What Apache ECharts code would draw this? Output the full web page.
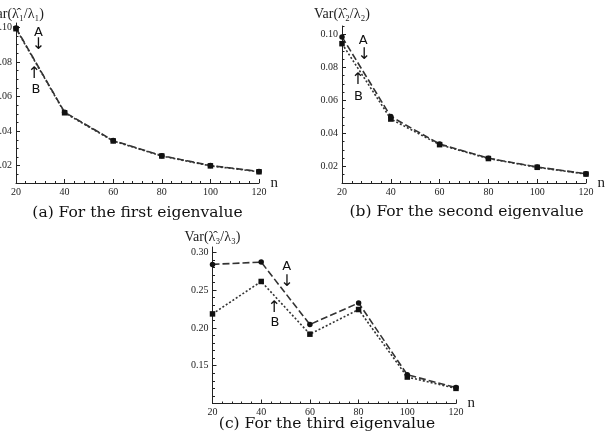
<!DOCTYPE html>
<html>
<head>
<meta charset="utf-8">
<script src="https://cdn.jsdelivr.net/npm/echarts@6/dist/echarts.min.js"></script>
<style>
    html, body { margin: 0; padding: 0; background: #fff; }
    #main { width: 616px; height: 443px; }
</style>
</head>
<body>
<div id="main"></div>
<script>
    // sample sizes
    var nValues = [20, 40, 60, 80, 100, 120];
    // (a) first eigenvalue
    var varA1 = [0.0996, 0.0509, 0.0345, 0.0258, 0.0201, 0.0167];
    var varB1 = [0.0992, 0.0506, 0.0343, 0.0256, 0.0199, 0.0165];
    // (b) second eigenvalue
    var varA2 = [0.0984, 0.0502, 0.0336, 0.0250, 0.0197, 0.0156];
    var varB2 = [0.0943, 0.0487, 0.0332, 0.0248, 0.0195, 0.0154];
    // (c) third eigenvalue
    var varA3 = [0.284, 0.287, 0.2045, 0.233, 0.138, 0.121];
    var varB3 = [0.2185, 0.2614, 0.1917, 0.2243, 0.135, 0.120];

    // tick labels
    var xTicks = [20, 40, 60, 80, 100, 120];
    var yTicksAB = [0.02, 0.04, 0.06, 0.08, 0.10];
    var yTicksC = [0.15, 0.20, 0.25, 0.30];

    var yTitles = ['Var(λ̂₁/λ₁)', 'Var(λ̂₂/λ₂)', 'Var(λ̂₃/λ₃)'];
    var captions = ['(a) For the first eigenvalue', '(b) For the second eigenvalue', '(c) For the third eigenvalue'];

    // A / B arrows, placed in data coordinates of each panel
    var notes = [
        [[29.2, 0.0971, 'A'], [29.2, 0.0898, '↓'], [27.5, 0.0730, '↑'], [28.2, 0.0642, 'B']],
        [[28.7, 0.0959, 'A'], [29.1, 0.0874, '↓'], [26.5, 0.0722, '↑'], [26.7, 0.0625, 'B']],
        [[50.5, 0.281, 'A'], [50.6, 0.261, '↓'], [45.3, 0.226, '↑'], [45.7, 0.2065, 'B']]
    ];

    var ink = '#222';
    var serif = '"Liberation Serif", "DejaVu Serif", serif';

    function minors(from, to, step, majors) {
        var out = [];
        var k = Math.round(from / step);
        while (k * step <= to + 1e-9) {
            var v = Math.round(k * step * 1000) / 1000;
            if (majors.indexOf(v) < 0) out.push(v);
            k++;
        }
        return out;
    }

    var yRanges = [[0.01, 0.1025], [0.01, 0.105], [0.10, 0.307]];
    var yMajors = [yTicksAB, yTicksAB, yTicksC];
    var yMinors = [
        minors(0.01, 0.1025, 0.005, yTicksAB),
        minors(0.01, 0.105, 0.005, yTicksAB),
        minors(0.10, 0.307, 0.01, yTicksC)
    ];
    var nameGaps = [2, 5, 3];

    var xAxes = [], yAxes = [], series = [];
    for (var g = 0; g < 3; g++) {
        xAxes.push({
            type: 'value', gridIndex: g, min: 20, max: 120, interval: 20,
            name: 'n', nameLocation: 'end', nameGap: 8,
            nameTextStyle: { fontFamily: serif, fontSize: 15, color: ink, verticalAlign: 'middle' },
            axisLine: { show: true, lineStyle: { color: ink, width: 1 } },
            axisTick: { show: true, inside: true, length: 4, lineStyle: { color: ink } },
            minorTick: { show: true, splitNumber: 5, length: 2, lineStyle: { color: ink } },
            axisLabel: { fontFamily: serif, fontSize: 10, color: ink, margin: 4,
                customValues: xTicks },
            splitLine: { show: false }
        });
        yAxes.push({
            type: 'value', gridIndex: g, position: 'left',
            min: yRanges[g][0], max: yRanges[g][1],
            name: yTitles[g], nameLocation: 'end', nameGap: nameGaps[g],
            nameTextStyle: { fontFamily: serif, fontSize: 14, color: ink },
            axisLine: { show: true, lineStyle: { color: ink, width: 1 } },
            axisTick: { show: true, inside: true, length: 4, customValues: yMajors[g], lineStyle: { color: ink } },
            axisLabel: { fontFamily: serif, fontSize: 10, color: ink, margin: 4,
                customValues: yMajors[g],
                formatter: function (v) { return v.toFixed(2); } },
            splitLine: { show: false }
        });
        yAxes.push({
            type: 'value', gridIndex: g, position: 'left',
            min: yRanges[g][0], max: yRanges[g][1],
            axisLine: { show: false },
            axisTick: { show: true, inside: true, length: 2.5, customValues: yMinors[g], lineStyle: { color: ink } },
            axisLabel: { show: false },
            splitLine: { show: false }
        });
    }

    var seriesA = [varA1, varA2, varA3];
    var seriesB = [varB1, varB2, varB3];
    function pairs(vals) {
        return nValues.map(function (n, i) { return [n, vals[i]]; });
    }
    for (var s = 0; s < 3; s++) {
        series.push({
            name: 'B', type: 'line', xAxisIndex: s, yAxisIndex: s * 2,
            data: pairs(seriesB[s]), symbol: 'rect', symbolSize: 5.5,
            lineStyle: { color: '#333', width: 1.6, type: [2, 2] },
            itemStyle: { color: '#111' }
        });
        series.push({
            name: 'A', type: 'line', xAxisIndex: s, yAxisIndex: s * 2,
            data: pairs(seriesA[s]), symbol: 'circle', symbolSize: 5.5,
            lineStyle: { color: '#333', width: 1.6, type: [7, 3] },
            itemStyle: { color: '#111' }
        });
    }

    var myChart = echarts.init(document.getElementById('main'));
    myChart.setOption({
        animation: false,
        backgroundColor: '#fff',
        grid: [
            { left: 16, top: 23, width: 243, height: 160, outerBoundsMode: 'none' },
            { left: 342, top: 26, width: 244, height: 157, outerBoundsMode: 'none' },
            { left: 212.5, top: 247, width: 243.5, height: 156.5, outerBoundsMode: 'none' }
        ],
        xAxis: xAxes,
        yAxis: yAxes,
        series: series
    });

    // captions and A/B arrows
    var capPos = [[137.5, 213], [466.5, 212], [327, 424]];
    var elements = [];
    captions.forEach(function (c, i) {
        elements.push({
            type: 'text', x: capPos[i][0], y: capPos[i][1],
            style: { text: c, fontFamily: '"DejaVu Serif", serif', fontSize: 15.5, fill: '#111',
                align: 'center', verticalAlign: 'middle' }
        });
    });
    notes.forEach(function (list, g) {
        list.forEach(function (nt) {
            var p = myChart.convertToPixel({ gridIndex: g }, [nt[0], nt[1]]);
            var letter = nt[2] === 'A' || nt[2] === 'B';
            elements.push({
                type: 'text', x: p[0], y: p[1],
                style: { text: nt[2], fontFamily: '"DejaVu Sans", sans-serif',
                    fontSize: letter ? 13 : 16, fill: '#111',
                    align: 'center', verticalAlign: 'middle' }
            });
        });
    });
    myChart.setOption({ graphic: elements });
</script>
</body>
</html>
